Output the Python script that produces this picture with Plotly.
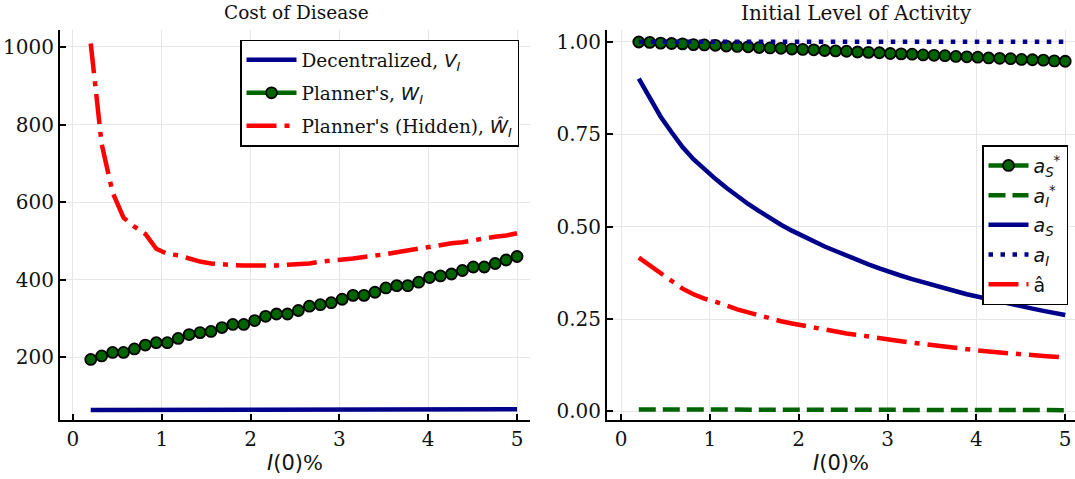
import plotly.graph_objects as go

# ---------------- data ----------------
x_vals = [0.200, 0.323, 0.446, 0.569, 0.692, 0.815, 0.938, 1.062, 1.185, 1.308,
          1.431, 1.554, 1.677, 1.800, 1.923, 2.046, 2.169, 2.292, 2.415, 2.538,
          2.662, 2.785, 2.908, 3.031, 3.154, 3.277, 3.400, 3.523, 3.646, 3.769,
          3.892, 4.015, 4.138, 4.262, 4.385, 4.508, 4.631, 4.754, 4.877, 5.000]

# Left panel: Cost of Disease
V_decentralized = [64.5, 64.6, 64.6, 64.7, 64.7, 64.8, 64.8, 64.9, 64.9, 65.0,
                   65.0, 65.1, 65.1, 65.2, 65.2, 65.3, 65.3, 65.4, 65.4, 65.5,
                   65.5, 65.6, 65.6, 65.7, 65.7, 65.8, 65.8, 65.9, 65.9, 66.0,
                   66.0, 66.1, 66.1, 66.2, 66.2, 66.3, 66.3, 66.4, 66.4, 66.5]
W_planner = [195, 204, 213, 213, 222, 232, 238, 238, 249, 259,
             264, 267, 277, 285, 285, 295, 306, 312, 312, 321,
             332, 336, 341, 350, 360, 360, 368, 379, 385, 385,
             394, 406, 410, 415, 424, 433, 433, 442, 451, 460]
W_hidden = [1009, 750, 625, 560, 537, 518, 480, 467, 463, 455,
            447, 442, 439, 438, 437, 437, 436, 437, 439, 440,
            442, 447, 449, 451, 455, 459, 462, 466, 471, 476,
            480, 485, 490, 494, 497, 502, 508, 511, 514, 520]

# Right panel: Initial Level of Activity
a_S_star = [0.999, 0.998, 0.996, 0.995, 0.994, 0.992, 0.991, 0.990, 0.988, 0.987,
            0.986, 0.984, 0.983, 0.982, 0.980, 0.979, 0.978, 0.976, 0.975, 0.974,
            0.972, 0.971, 0.970, 0.968, 0.967, 0.966, 0.964, 0.963, 0.962, 0.960,
            0.959, 0.958, 0.956, 0.955, 0.954, 0.952, 0.951, 0.950, 0.948, 0.947]
a_I_star = [0.0055, 0.0055, 0.0054, 0.0054, 0.0053, 0.0053, 0.0052, 0.0052, 0.0051, 0.0051,
            0.0050, 0.0050, 0.0049, 0.0049, 0.0048, 0.0048, 0.0047, 0.0047, 0.0046, 0.0046,
            0.0045, 0.0045, 0.0044, 0.0044, 0.0043, 0.0043, 0.0042, 0.0042, 0.0041, 0.0041,
            0.0040, 0.0040, 0.0039, 0.0039, 0.0038, 0.0038, 0.0037, 0.0037, 0.0036, 0.0036]
a_S = [0.900, 0.848, 0.797, 0.755, 0.715, 0.682, 0.655, 0.629, 0.605, 0.582,
       0.561, 0.542, 0.522, 0.505, 0.489, 0.474, 0.460, 0.446, 0.434, 0.421,
       0.410, 0.398, 0.387, 0.376, 0.367, 0.358, 0.349, 0.340, 0.332, 0.325,
       0.317, 0.310, 0.303, 0.297, 0.291, 0.285, 0.278, 0.272, 0.267, 0.261]
a_I = [1.0] * 40
a_hat = [0.416, 0.395, 0.375, 0.354, 0.332, 0.317, 0.305, 0.297, 0.285, 0.276,
         0.268, 0.259, 0.251, 0.244, 0.238, 0.232, 0.226, 0.221, 0.216, 0.211,
         0.207, 0.202, 0.198, 0.194, 0.190, 0.186, 0.182, 0.178, 0.175, 0.172,
         0.168, 0.165, 0.162, 0.159, 0.156, 0.154, 0.152, 0.150, 0.148, 0.146]

left_yticks = [200, 400, 600, 800, 1000]
right_yticks = [0.0, 0.25, 0.5, 0.75, 1.0]
xticks = [0, 1, 2, 3, 4, 5]

# ---------------- styling ----------------
NAVY = "#00008B"
GREEN = "#006400"
RED = "#FF0000"
LW = 4.5
SERIF = "DejaVu Serif"
MATH = "DejaVu Sans"
DASHDOT = "30px,8px,5px,8px"
DASH = "17px,7px"
DOT = "4.5px,7.5px"
TXT = "#111"


def m(s):
    return f'<span style="font-family:{MATH}">{s}</span>'


fig = go.Figure()

# left panel traces
fig.add_trace(go.Scatter(x=x_vals, y=V_decentralized, mode="lines",
                         line=dict(color=NAVY, width=LW),
                         name="Decentralized, " + m("<i>V</i><sub><i>I</i></sub>"),
                         xaxis="x", yaxis="y", legend="legend", legendgroup="l1"))
fig.add_trace(go.Scatter(x=x_vals, y=W_planner, mode="lines+markers",
                         line=dict(color=GREEN, width=LW),
                         marker=dict(size=11, color=GREEN, line=dict(color="black", width=1.8)),
                         name="Planner's, " + m("<i>W</i><sub><i>I</i></sub>"),
                         xaxis="x", yaxis="y", legend="legend", legendgroup="l2"))
fig.add_trace(go.Scatter(x=x_vals, y=W_hidden, mode="lines",
                         line=dict(color=RED, width=LW, dash=DASHDOT),
                         name="Planner's (Hidden), " + m("<i>Ŵ</i><sub><i>I</i></sub>"),
                         xaxis="x", yaxis="y", legend="legend", legendgroup="l3"))

# right panel traces
fig.add_trace(go.Scatter(x=x_vals, y=a_S_star, mode="lines+markers",
                         line=dict(color=GREEN, width=LW),
                         marker=dict(size=11, color=GREEN, line=dict(color="black", width=1.8)),
                         name=m("<i>a</i><sub><i>S</i></sub><sup>*</sup>"),
                         xaxis="x2", yaxis="y2", legend="legend2", legendgroup="r1"))
fig.add_trace(go.Scatter(x=x_vals, y=a_I_star, mode="lines",
                         line=dict(color=GREEN, width=LW, dash=DASH),
                         name=m("<i>a</i><sub><i>I</i></sub><sup>*</sup>"),
                         xaxis="x2", yaxis="y2", legend="legend2", legendgroup="r2"))
fig.add_trace(go.Scatter(x=x_vals, y=a_S, mode="lines",
                         line=dict(color=NAVY, width=LW),
                         name=m("<i>a</i><sub><i>S</i></sub>"),
                         xaxis="x2", yaxis="y2", legend="legend2", legendgroup="r3"))
fig.add_trace(go.Scatter(x=x_vals, y=a_I, mode="lines",
                         line=dict(color=NAVY, width=LW, dash=DOT),
                         name=m("<i>a</i><sub><i>I</i></sub>"),
                         xaxis="x2", yaxis="y2", legend="legend2", legendgroup="r4"))
fig.add_trace(go.Scatter(x=x_vals, y=a_hat, mode="lines",
                         line=dict(color=RED, width=LW, dash=DASHDOT),
                         name=m("â"),
                         xaxis="x2", yaxis="y2", legend="legend2", legendgroup="r5"))

W, H = 1075, 479
ydom = [(H - 423) / H, (H - 30) / H]

axis_common = dict(
    showline=True, linecolor="black", linewidth=2,
    ticks="inside", ticklen=6, tickwidth=1.5, tickcolor="black",
    showgrid=True, gridcolor="#e6e6e6", gridwidth=1,
    zeroline=False, mirror=False,
    tickfont=dict(family=SERIF, size=20, color=TXT),
)

xtitle = dict(text=m("<i>I</i>(0)") + "%", font=dict(family=SERIF, size=21, color=TXT),
              standoff=5)

fig.update_layout(
    width=W, height=H,
    margin=dict(l=0, r=0, t=0, b=0),
    paper_bgcolor="white", plot_bgcolor="white",
    font=dict(family=SERIF, size=18, color=TXT),
    showlegend=True,
    xaxis=dict(domain=[60 / W, 530 / W], range=[-0.146, 5.146], tickvals=xticks,
               anchor="y", title=xtitle, **axis_common),
    yaxis=dict(domain=ydom, range=[38, 1044], tickvals=left_yticks,
               anchor="x", **axis_common),
    xaxis2=dict(domain=[607 / W, 1.0], range=[-0.158, 5.11], tickvals=xticks,
                anchor="y2", title=xtitle, **axis_common),
    yaxis2=dict(domain=ydom, range=[-0.024, 1.032], tickvals=right_yticks,
                tickformat=".2f", anchor="x2", **axis_common),
    legend=dict(x=240 / W, y=1 - 40 / H, xanchor="left", yanchor="top",
                bgcolor="white", bordercolor="black", borderwidth=1.5,
                font=dict(family=SERIF, size=18.5, color=TXT),
                tracegroupgap=6, itemwidth=50),
    legend2=dict(x=1068 / W, y=1 - 146 / H, xanchor="right", yanchor="top",
                 bgcolor="white", bordercolor="black", borderwidth=1.5,
                 font=dict(family=SERIF, size=19, color=TXT),
                 tracegroupgap=2, itemwidth=40),
    annotations=[
        dict(text="Cost of Disease", x=296 / W, y=1 - 13 / H, xref="paper", yref="paper",
             showarrow=False, font=dict(family=SERIF, size=18.5, color=TXT),
             xanchor="center", yanchor="middle"),
        dict(text="Initial Level of Activity", x=856 / W, y=1 - 13 / H, xref="paper", yref="paper",
             showarrow=False, font=dict(family=SERIF, size=20, color=TXT),
             xanchor="center", yanchor="middle"),
    ],
)

fig.write_html("out.html")
